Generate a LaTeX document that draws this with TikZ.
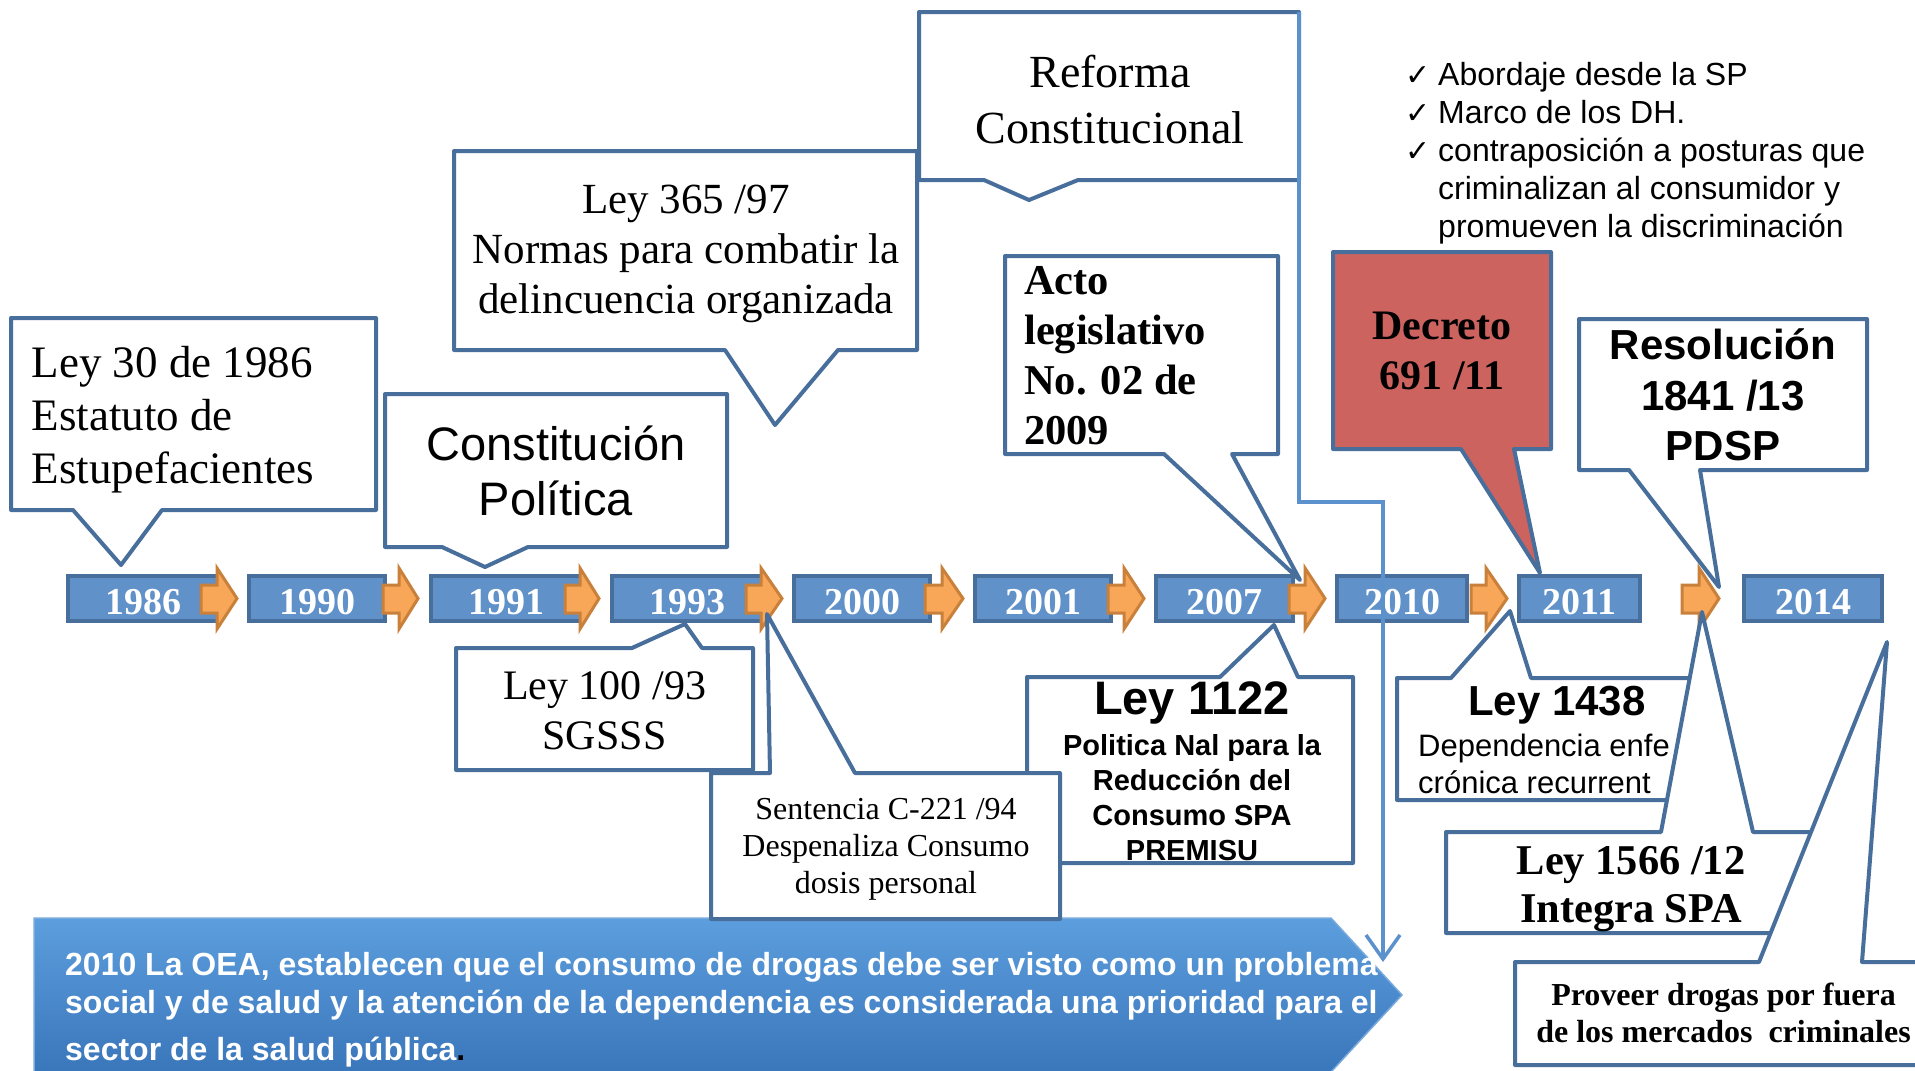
\documentclass[tikz,border=0pt]{standalone}
\usepackage{fontspec}
\setmainfont{Liberation Serif}
\newfontfamily\sansf{Liberation Sans}
\newfontfamily\dejavu{DejaVu Sans}
\usetikzlibrary{arrows.meta}
\newcommand\fs[2]{\fontsize{#1}{#2}\selectfont}
\newcommand\ck{\makebox[33pt][l]{\dejavu\fontsize{30}{30}\selectfont ✓}}
\definecolor{cbord}{RGB}{72,110,155}
\definecolor{tlfill}{RGB}{96,146,201}
\definecolor{arrfill}{RGB}{248,166,88}
\definecolor{arrbord}{RGB}{200,128,58}
\definecolor{linkblue}{RGB}{91,145,205}
\definecolor{redfill}{RGB}{205,99,95}
\definecolor{oeatop}{RGB}{92,158,222}
\definecolor{oeabot}{RGB}{58,118,186}
\definecolor{oeaedge}{RGB}{120,170,220}
\newcommand\tlarrow[3]{%
  \draw[tlarr] (#1,585) -- (#2,585) -- (#2,568) -- (#3,598.5) -- (#2,629) -- (#2,613) -- (#1,613) -- cycle;}
\tikzset{
  cbox/.style={draw=cbord, line width=4pt, fill=white, line join=round},
  yearbox/.style={draw=cbord, fill=tlfill, line width=4pt, minimum height=45pt,
    inner sep=0pt, text=white, text height=31pt, text depth=0pt,
    font={\bfseries\fs{38}{40}}},
  tlarr/.style={draw=arrbord, fill=arrfill, line width=3pt, line join=miter},
  link/.style={draw=linkblue, line width=3.5pt, -{Straight Barb[length=24pt,width=34pt]}},
  txt/.style={inner sep=0pt, align=center},
}
\begin{document}
\begin{tikzpicture}[x=1pt,y=-1pt]
\useasboundingbox (0,0) rectangle (1915,1071);

% OEA banner arrow
\shade[top color=oeatop, bottom color=oeabot, draw=oeaedge, line width=1.5pt]
  (34,918) -- (1331,918) -- (1402,995) -- (1331,1072) -- (34,1072) -- cycle;
\node[inner sep=0pt, anchor=north west, align=left, text=white,
  font={\sansf\bfseries\fs{32}{38}}] (oea) at (65,952)
  {2010 La OEA, establecen que el consumo de drogas debe ser visto como un problema\\
   social y de salud y la atención de la dependencia es considerada una prioridad para el\\[9pt]
   sector de la salud pública{\color{black}.}};

% timeline boxes
\node[yearbox, minimum width=151pt] (y1986) at (143.5,598.5) {1986};
\node[yearbox, minimum width=136pt] (y1990) at (317,598.5) {1990};
\node[yearbox, minimum width=150pt] (y1991) at (506,598.5) {1991};
\node[yearbox, minimum width=151pt] (y1993) at (687.5,598.5) {1993};
\node[yearbox, minimum width=136pt] (y2000) at (862,598.5) {2000};
\node[yearbox, minimum width=136pt] (y2001) at (1043,598.5) {2001};
\node[yearbox, minimum width=137pt] (y2007) at (1224.5,598.5) {2007};
\node[yearbox, minimum width=130pt] (y2010) at (1402,598.5) {2010};
\node[yearbox, minimum width=121pt] (y2011) at (1579.5,598.5) {2011};
\node[yearbox, minimum width=138pt] (y2014) at (1813,598.5) {2014};

% timeline arrows
\tlarrow{201}{217}{237}
\tlarrow{383}{399}{418}
\tlarrow{565}{580}{599}
\tlarrow{746}{761}{782}
\tlarrow{925}{942}{963}
\tlarrow{1108}{1124}{1144}
\tlarrow{1289}{1305}{1325}
\tlarrow{1471}{1486}{1507}
\tlarrow{1682}{1699}{1719}

% callouts above
\draw[cbox] (11,318) -- (376,318) -- (376,510) -- (162,510) -- (121,565) -- (73,510) -- (11,510) -- cycle;
\draw[cbox] (385,394) -- (727,394) -- (727,547) -- (528,547) -- (485,567) -- (442,547) -- (385,547) -- cycle;
\draw[cbox] (454,151) -- (917,151) -- (917,350) -- (838,350) -- (775,425) -- (725,350) -- (454,350) -- cycle;
\draw[cbox] (919,12) -- (1299,12) -- (1299,180) -- (1078,180) -- (1029,200) -- (984,180) -- (919,180) -- cycle;
\draw[cbox] (1005,256) -- (1278,256) -- (1278,454) -- (1232,454) -- (1300,580) -- (1164,454) -- (1005,454) -- cycle;
\draw[cbox, fill=redfill] (1333,252) -- (1551,252) -- (1551,449) -- (1514,449) -- (1540,573) -- (1461,449) -- (1333,449) -- cycle;
\draw[cbox] (1579,319) -- (1867,319) -- (1867,470) -- (1700,470) -- (1719,587) -- (1629,470) -- (1579,470) -- cycle;

% callouts below
\draw[cbox] (1027,677) -- (1220,677) -- (1274,625) -- (1298,677) -- (1353,677) -- (1353,863) -- (1027,863) -- cycle;
\draw[cbox] (711,773) -- (770,773) -- (767,614) -- (855,773) -- (1060,773) -- (1060,919) -- (711,919) -- cycle;
\draw[cbox] (456,648) -- (632,648) -- (685,624) -- (702,648) -- (753,648) -- (753,770) -- (456,770) -- cycle;
\draw[cbox] (1397,678) -- (1451,678) -- (1510,611) -- (1531,678) -- (1705,678) -- (1705,800) -- (1397,800) -- cycle;
\draw[cbox] (1446,832) -- (1661,832) -- (1702,612) -- (1753,832) -- (1840,832) -- (1840,933) -- (1446,933) -- cycle;
\draw[cbox] (1515,962) -- (1759,962) -- (1887,642) -- (1862,962) -- (1935,962) -- (1935,1065) -- (1515,1065) -- cycle;

% texts
\node[txt, anchor=north west, align=left, font={\fs{45}{53}}] (t30) at (31.5,346)
  {Ley 30 de 1986\\ Estatuto de\\ Estupefacientes};
\node[txt, anchor=north, font={\sansf\fs{47}{55}}] (tcp) at (556,426)
  {Constitución\\ Política};
\node[txt, anchor=north, font={\fs{43}{50}}] (t365) at (686,185)
  {Ley 365 /97\\ Normas para combatir la\\ delincuencia organizada};
\node[txt, anchor=north, font={\fs{46}{56}}] (tref) at (1110,55)
  {Reforma\\ Constitucional};
\node[txt, anchor=north west, align=left, font={\bfseries\fs{42.5}{50}}] (tacto) at (1024,266)
  {Acto\\ legislativo\\ No. 02 de\\ 2009};
\node[txt, anchor=north, font={\bfseries\fs{42}{50}}] (tdec) at (1442,312)
  {Decreto\\ 691 /11};
\node[txt, anchor=north, font={\sansf\bfseries\fs{42}{50.5}}] (tres) at (1723,328.5)
  {Resolución\\ 1841 /13\\ PDSP};
\node[txt, anchor=north, font={\fs{42}{50}}] (t100) at (604.5,671)
  {Ley 100 /93\\ SGSSS};
\node[txt, anchor=north, font={\fs{32}{37}}] (tsen) at (886,798)
  {Sentencia C-221 /94\\ Despenaliza Consumo\\ dosis personal};
\node[txt, anchor=north, font={\sansf\bfseries\fs{47}{50}}] (t1122) at (1192,681)
  {Ley 1122};
\node[txt, anchor=north, font={\sansf\bfseries\fs{29}{35}}] (t1122b) at (1192,734)
  {Politica Nal para la\\ Reducción del\\ Consumo SPA\\ PREMISU};
\node[txt, anchor=north, font={\sansf\bfseries\fs{42}{50}}] (t1438) at (1557,686)
  {Ley 1438};
\node[txt, anchor=north west, align=left, font={\sansf\fs{31}{37}}] (t1438b) at (1418,733.4)
  {Dependencia enfe\\ crónica recurrent};
\node[txt, anchor=north, font={\bfseries\fs{42.4}{48}}] (t1566) at (1631,846)
  {Ley 1566 /12\\ Integra SPA};
\node[txt, anchor=north, font={\bfseries\fs{32}{37}}] (tprov) at (1723.5,983)
  {Proveer drogas por fuera\\ de los mercados\ \ criminales};

% checklist
\node[txt, anchor=north west, align=left, font={\sansf\fs{32}{38}}] (checks) at (1405,62)
  {\ck Abordaje desde la SP\\ \ck Marco de los DH.\\ \ck contraposición a posturas que\\
   \hspace*{33pt}criminalizan al consumidor y\\ \hspace*{33pt}promueven la discriminación};

% light blue connector from Reforma to OEA banner
\coordinate (rfTop) at (1299,12);
\coordinate (oeaHit) at (1383,962);
\draw[link] (rfTop) -- ++(0,490) -| (oeaHit);
\end{tikzpicture}
\end{document}
